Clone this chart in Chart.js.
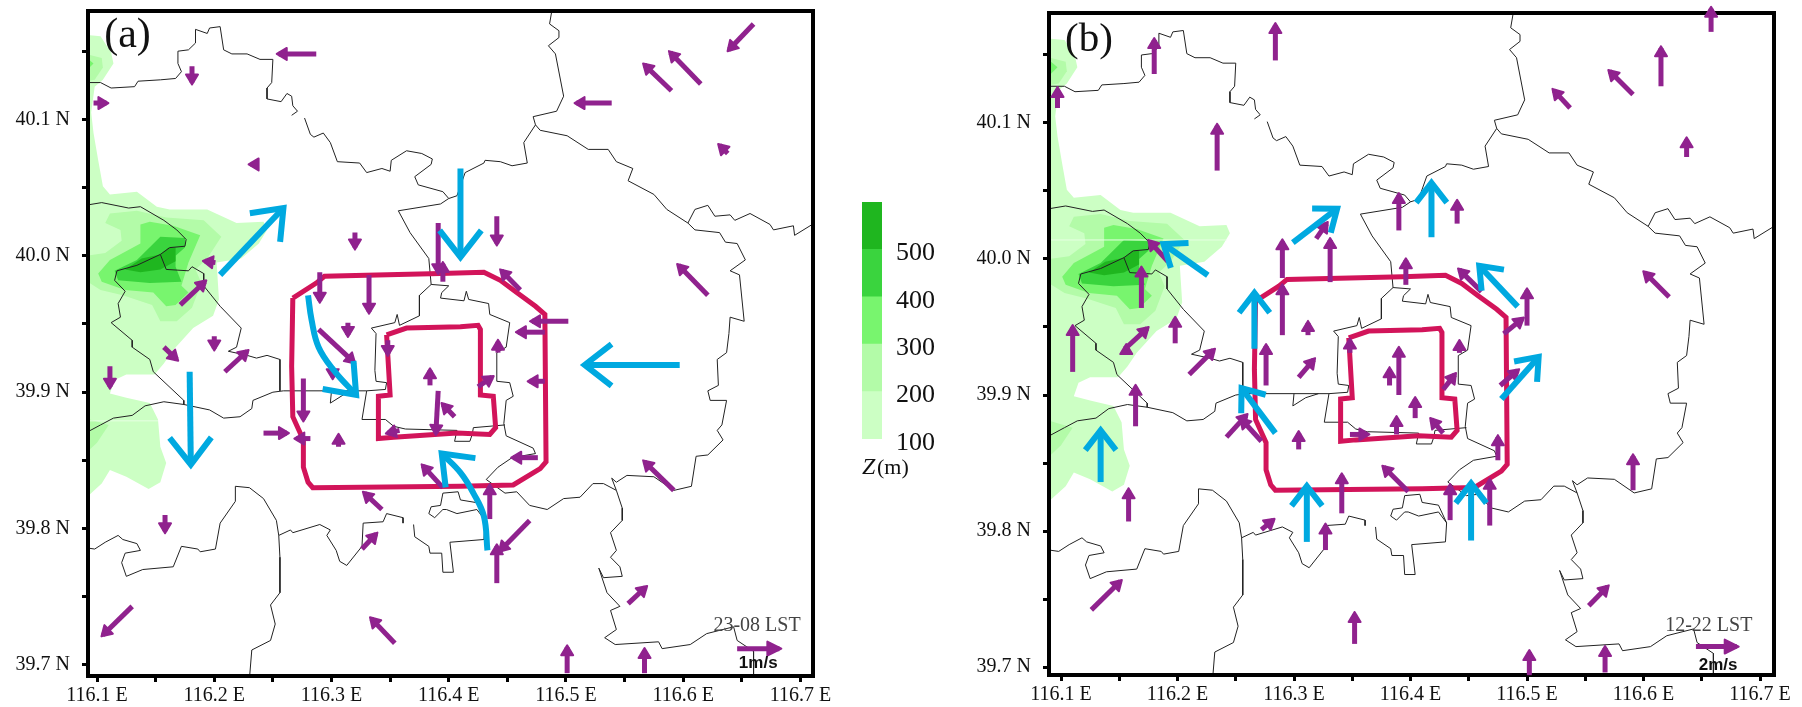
<!DOCTYPE html>
<html>
<head>
<meta charset="utf-8">
<title>Beijing wind field</title>
<script src="https://cdn.jsdelivr.net/npm/chart.js@4/dist/chart.umd.min.js"></script>
<style>
body{margin:0;background:#fff;width:1802px;height:707px;overflow:hidden;position:relative}
canvas{position:absolute;top:0}
</style>
</head>
<body>
<canvas id="panelA" width="840" height="707" style="left:0"></canvas>
<canvas id="scaleBar" width="130" height="707" style="left:840px"></canvas>
<canvas id="panelB" width="832" height="707" style="left:970px"></canvas>
<script>
// axis ticks (degrees)
const lonTicks=[116.1,116.15,116.2,116.25,116.3,116.35,116.4,116.45,116.5,116.55,116.6,116.65,116.7]
const latTicks=[39.7,39.75,39.8,39.85,39.9,39.95,40.0,40.05,40.1,40.15]

// terrain height bands, lon/lat outlines
const heightBands=[[100,200],[200,300],[300,400],[400,500],[500,600]]
const heightTicks=[100,200,300,400,500]
const heightColors=["#ccffc4","#b3fba8","#78f56e","#3ad43e","#1fb61f"]

const terrain100=[[116.090,40.162],[116.103,40.161],[116.112,40.149],[116.114,40.141],[116.105,40.129],[116.098,40.124],[116.095,40.105],[116.097,40.090],[116.101,40.070],[116.105,40.051],[116.111,40.045],[116.134,40.047],[116.151,40.036],[116.162,40.034],[116.194,40.034],[116.219,40.024],[116.242,40.025],[116.245,40.019],[116.238,40.009],[116.223,39.998],[116.202,39.995],[116.204,39.968],[116.199,39.956],[116.182,39.947],[116.165,39.931],[116.157,39.921],[116.149,39.913],[116.125,39.913],[116.115,39.909],[116.111,39.899],[116.125,39.896],[116.145,39.892],[116.152,39.880],[116.154,39.860],[116.159,39.848],[116.154,39.834],[116.144,39.829],[116.125,39.838],[116.111,39.843],[116.104,39.833],[116.090,39.822],[116.090,40.162]]
const terrain200=[[116.107,40.024],[116.111,40.031],[116.134,40.033],[116.159,40.028],[116.191,40.026],[116.206,40.014],[116.194,39.998],[116.184,39.990],[116.189,39.980],[116.181,39.962],[116.168,39.952],[116.154,39.952],[116.147,39.964],[116.122,39.971],[116.103,39.975],[116.090,39.982],[116.090,40.000],[116.107,40.002],[116.121,40.011],[116.120,40.019],[116.107,40.024]]
const terrain300=[[116.137,40.023],[116.145,40.025],[116.165,40.022],[116.188,40.015],[116.178,39.995],[116.172,39.978],[116.178,39.973],[116.167,39.964],[116.159,39.963],[116.148,39.973],[116.124,39.975],[116.104,39.981],[116.101,39.987],[116.111,39.997],[116.137,40.009],[116.137,40.023]]
const terrain400=[[116.154,40.014],[116.175,40.013],[116.175,40.006],[116.167,40.000],[116.167,39.992],[116.172,39.981],[116.145,39.980],[116.118,39.982],[116.115,39.989],[116.134,39.997],[116.154,40.014]]
const terrain500=[[116.161,40.006],[116.167,40.006],[116.167,39.996],[116.154,39.990],[116.137,39.988],[116.124,39.990],[116.138,39.998],[116.154,40.001],[116.161,40.006]]
const terrainTop200=[[116.090,40.148],[116.104,40.145],[116.105,40.138],[116.098,40.129],[116.090,40.128],[116.090,40.148]]
const terrainTop300=[[116.090,40.146],[116.097,40.141],[116.090,40.135],[116.090,40.146]]
const terrainLow200=[[116.090,39.881],[116.110,39.876],[116.100,39.863],[116.090,39.855],[116.090,39.881]]
// pale scan seam across the terrain
const seamA=[[116.090,39.879],[116.152,39.879]]
const seamB=[[116.090,40.014],[116.242,40.014]]

// district boundaries, lon/lat
const borderNorth1=[[116.090,40.127],[116.103,40.127],[116.112,40.123],[116.132,40.124],[116.135,40.128],[116.154,40.129],[116.167,40.130],[116.172,40.135],[116.169,40.141],[116.169,40.150],[116.178,40.151],[116.184,40.156],[116.184,40.166],[116.194,40.163],[116.196,40.167],[116.205,40.168],[116.208,40.151],[116.215,40.148],[116.228,40.148],[116.239,40.144],[116.250,40.144],[116.249,40.127],[116.245,40.123],[116.245,40.115],[116.257,40.113],[116.262,40.119],[116.266,40.117],[116.267,40.110],[116.271,40.106],[116.266,40.103]]
const borderNorth2=[[116.277,40.101],[116.282,40.089],[116.285,40.087],[116.293,40.090],[116.299,40.083],[116.305,40.069],[116.324,40.068],[116.330,40.061],[116.343,40.064],[116.350,40.062],[116.351,40.070],[116.364,40.077],[116.377,40.075],[116.386,40.071],[116.385,40.067],[116.371,40.058],[116.374,40.052],[116.395,40.047],[116.400,40.042],[116.407,40.044],[116.414,40.061],[116.430,40.068],[116.431,40.070],[116.444,40.069],[116.454,40.066],[116.467,40.068],[116.464,40.083],[116.474,40.096],[116.472,40.102],[116.492,40.106],[116.498,40.117],[116.491,40.148],[116.485,40.154],[116.494,40.160],[116.494,40.165],[116.486,40.170],[116.488,40.180]]
const borderEast=[[116.474,40.096],[116.478,40.092],[116.501,40.088],[116.519,40.078],[116.536,40.078],[116.543,40.069],[116.557,40.064],[116.553,40.055],[116.575,40.045],[116.586,40.034],[116.604,40.024],[116.610,40.034],[116.621,40.037],[116.627,40.029],[116.640,40.030],[116.644,40.026],[116.657,40.031],[116.674,40.023],[116.677,40.019],[116.694,40.022],[116.695,40.015],[116.712,40.024]]
const borderEastSouth=[[116.604,40.024],[116.610,40.019],[116.631,40.017],[116.636,40.010],[116.646,40.009],[116.653,39.997],[116.640,39.989],[116.648,39.986],[116.652,39.952],[116.640,39.955],[116.639,39.943],[116.637,39.929],[116.629,39.924],[116.630,39.905],[116.621,39.901],[116.623,39.894],[116.637,39.894],[116.633,39.876],[116.629,39.872],[116.634,39.865],[116.621,39.854],[116.611,39.853],[116.607,39.831],[116.592,39.828],[116.575,39.838],[116.552,39.839],[116.543,39.834],[116.539,39.837],[116.543,39.828],[116.548,39.815],[116.548,39.806],[116.538,39.797],[116.543,39.784],[116.538,39.779],[116.546,39.772],[116.548,39.765],[116.532,39.764],[116.528,39.771],[116.535,39.753],[116.546,39.743],[116.538,39.740],[116.543,39.726],[116.533,39.720],[116.542,39.715],[116.579,39.717],[116.582,39.712],[116.606,39.715],[116.620,39.723],[116.643,39.728],[116.646,39.718],[116.660,39.710],[116.660,39.690]]
const borderSouthEast=[[116.543,39.828],[116.532,39.833],[116.523,39.833],[116.512,39.823],[116.498,39.822],[116.484,39.814],[116.469,39.817],[116.458,39.827],[116.448,39.826],[116.432,39.836],[116.442,39.845],[116.454,39.852],[116.474,39.855],[116.472,39.859],[116.449,39.868],[116.447,39.877],[116.449,39.894],[116.455,39.897],[116.452,39.907],[116.441,39.908],[116.441,39.929],[116.449,39.933],[116.452,39.951],[116.435,39.957],[116.434,39.965],[116.417,39.968],[116.415,39.974],[116.413,39.967],[116.393,39.969],[116.394,39.973],[116.400,39.978],[116.385,39.979],[116.375,39.971],[116.375,39.956],[116.358,39.949],[116.356,39.957],[116.354,39.951],[116.334,39.947],[116.338,39.943],[116.337,39.916],[116.338,39.908],[116.347,39.907],[116.346,39.902],[116.330,39.901],[116.326,39.880],[116.346,39.880],[116.353,39.875],[116.363,39.873],[116.407,39.872],[116.405,39.864],[116.418,39.864],[116.420,39.869],[116.421,39.874],[116.448,39.876]]
const borderLink=[[116.385,39.979],[116.383,39.998],[116.367,40.017],[116.357,40.033],[116.393,40.038],[116.400,40.042]]
const borderWest=[[116.330,39.901],[116.259,39.901],[116.250,39.900],[116.233,39.894],[116.232,39.888],[116.222,39.882],[116.208,39.881],[116.196,39.887],[116.174,39.891],[116.157,39.893],[116.141,39.890],[116.130,39.883],[116.114,39.881],[116.103,39.876],[116.090,39.870]]
const borderBox=[[116.300,39.901],[116.299,39.892],[116.310,39.898],[116.321,39.901]]
const borderHill1=[[116.090,40.037],[116.104,40.039],[116.127,40.035],[116.137,40.036],[116.157,40.026],[116.168,40.019],[116.176,40.012],[116.175,40.007],[116.162,40.006],[116.154,40.001],[116.134,39.993],[116.117,39.989],[116.115,39.982],[116.124,39.974],[116.118,39.965],[116.120,39.955],[116.112,39.951],[116.130,39.938],[116.130,39.933],[116.145,39.924],[116.148,39.915],[116.174,39.894],[116.174,39.891]]
const borderHill2=[[116.154,40.001],[116.159,39.990],[116.178,39.989],[116.181,39.992],[116.191,39.987],[116.191,39.978],[116.205,39.963],[116.223,39.947],[116.219,39.933],[116.212,39.930],[116.228,39.927],[116.236,39.925],[116.245,39.927],[116.256,39.924],[116.256,39.901]]
const borderSouth1=[[116.090,39.786],[116.098,39.785],[116.107,39.790],[116.118,39.795],[116.122,39.792],[116.134,39.789],[116.137,39.784],[116.124,39.782],[116.121,39.775],[116.125,39.765],[116.139,39.770],[116.165,39.772],[116.172,39.787],[116.186,39.785],[116.188,39.783],[116.201,39.785],[116.205,39.804],[116.218,39.820],[116.218,39.831],[116.230,39.830],[116.242,39.822],[116.253,39.806],[116.255,39.795],[116.256,39.779],[116.256,39.753],[116.248,39.744],[116.252,39.730],[116.248,39.718],[116.232,39.711],[116.230,39.690]]
const borderSouth2=[[116.255,39.795],[116.265,39.799],[116.267,39.797],[116.290,39.803],[116.299,39.799],[116.296,39.795],[116.304,39.784],[116.307,39.776],[116.313,39.773],[116.326,39.787],[116.327,39.804],[116.344,39.805],[116.347,39.811],[116.361,39.808],[116.361,39.804]]
const borderSouth3=[[116.370,39.803],[116.371,39.794],[116.383,39.787],[116.384,39.782],[116.394,39.782],[116.395,39.768],[116.404,39.768],[116.401,39.790],[116.430,39.792],[116.431,39.806],[116.424,39.814],[116.407,39.811],[116.398,39.814],[116.395,39.814],[116.388,39.808],[116.383,39.811],[116.385,39.816],[116.393,39.817],[116.395,39.826],[116.408,39.827],[116.410,39.821],[116.424,39.819],[116.431,39.806]]

// ring roads
const outerRing=[[116.267,39.969],[116.287,39.980],[116.294,39.985],[116.393,39.987],[116.430,39.988],[116.444,39.982],[116.458,39.973],[116.474,39.963],[116.482,39.957],[116.483,39.849],[116.478,39.844],[116.455,39.832],[116.410,39.831],[116.284,39.830],[116.280,39.834],[116.276,39.845],[116.276,39.865],[116.267,39.882],[116.266,39.919],[116.267,39.969]]
const innerRing=[[116.347,39.942],[116.364,39.947],[116.410,39.948],[116.425,39.949],[116.427,39.946],[116.427,39.898],[116.438,39.897],[116.440,39.874],[116.435,39.869],[116.407,39.870],[116.353,39.867],[116.340,39.866],[116.340,39.897],[116.350,39.898],[116.347,39.942]]

// wind vectors: lon0,lat0 -> lon1,lat1
const windA=[[116.287,40.148,116.255,40.148],[116.181,40.139,116.181,40.127],[116.097,40.112,116.108,40.112],[116.238,40.067,116.231,40.067],[116.320,40.017,116.320,40.006],[116.201,39.995,116.192,39.996],[116.171,39.964,116.192,39.981],[116.200,39.941,116.200,39.932],[116.157,39.933,116.168,39.924],[116.111,39.919,116.111,39.904],[116.209,39.915,116.228,39.930],[116.290,39.988,116.290,39.967],[116.332,39.986,116.332,39.959],[116.314,39.951,116.314,39.942],[116.391,40.024,116.391,39.988],[116.395,39.981,116.395,39.994],[116.441,40.029,116.441,40.009],[116.461,39.975,116.445,39.989],[116.502,39.952,116.471,39.952],[116.482,39.944,116.459,39.944],[116.442,39.929,116.442,39.937],[116.621,39.971,116.596,39.993],[116.539,40.112,116.509,40.112],[116.590,40.121,116.567,40.140],[116.615,40.126,116.589,40.149],[116.660,40.170,116.639,40.151],[116.638,40.075,116.631,40.081],[116.289,39.946,116.319,39.922],[116.348,39.938,116.348,39.928],[116.276,39.910,116.276,39.880],[116.301,39.916,116.301,39.911],[116.384,39.905,116.384,39.916],[116.391,39.901,116.389,39.870],[116.405,39.882,116.395,39.891],[116.358,39.872,116.348,39.870],[116.425,39.904,116.437,39.911],[116.482,39.908,116.469,39.908],[116.242,39.870,116.262,39.870],[116.282,39.866,116.270,39.866],[116.306,39.860,116.306,39.868],[116.343,39.814,116.328,39.826],[116.395,39.830,116.378,39.846],[116.476,39.852,116.455,39.852],[116.435,39.807,116.435,39.831],[116.469,39.806,116.444,39.784],[116.441,39.760,116.441,39.787],[116.553,39.745,116.568,39.757],[116.501,39.694,116.501,39.713],[116.567,39.694,116.567,39.711],[116.592,39.828,116.567,39.849],[116.158,39.810,116.158,39.798],[116.130,39.743,116.105,39.722],[116.354,39.716,116.334,39.734],[116.326,39.785,116.338,39.796]]
const windB=[[116.180,40.136,116.180,40.161],[116.284,40.146,116.284,40.172],[116.097,40.111,116.097,40.125],[116.234,40.065,116.234,40.098],[116.390,40.021,116.390,40.047],[116.396,39.981,116.396,39.999],[116.290,39.986,116.290,40.013],[116.331,39.983,116.331,40.014],[116.319,40.015,116.328,40.026],[116.192,39.998,116.176,40.013],[116.169,39.964,116.169,39.993],[116.290,39.944,116.290,39.980],[116.312,39.944,116.312,39.953],[116.198,39.938,116.198,39.956],[116.110,39.917,116.110,39.950],[116.155,39.934,116.174,39.949],[116.210,39.915,116.231,39.933],[116.276,39.907,116.276,39.936],[116.304,39.913,116.317,39.926],[116.390,39.900,116.390,39.934],[116.382,39.907,116.382,39.919],[116.348,39.931,116.348,39.940],[116.404,39.883,116.404,39.897],[116.388,39.871,116.388,39.883],[116.348,39.871,116.363,39.871],[116.304,39.860,116.304,39.872],[116.242,39.869,116.259,39.885],[116.272,39.866,116.255,39.882],[116.272,39.801,116.282,39.808],[116.327,39.786,116.327,39.804],[116.341,39.813,116.341,39.841],[116.398,39.829,116.377,39.847],[116.352,39.717,116.352,39.739],[116.126,39.742,116.151,39.763],[116.158,39.807,116.158,39.830],[116.164,39.877,116.164,39.906],[116.428,39.904,116.438,39.915],[116.428,39.872,116.418,39.882],[116.434,39.808,116.434,39.833],[116.468,39.804,116.468,39.837],[116.475,39.852,116.475,39.869],[116.477,39.907,116.492,39.918],[116.591,39.830,116.591,39.855],[116.553,39.745,116.569,39.759],[116.502,39.694,116.502,39.711],[116.567,39.696,116.567,39.714],[116.658,40.167,116.658,40.184],[116.615,40.127,116.615,40.155],[116.591,40.121,116.571,40.138],[116.537,40.111,116.523,40.124],[116.637,40.075,116.637,40.088],[116.440,40.026,116.440,40.042],[116.622,39.972,116.601,39.990],[116.461,39.976,116.442,39.992],[116.500,39.951,116.500,39.977],[116.480,39.945,116.496,39.956],[116.442,39.931,116.442,39.939],[116.156,39.931,116.156,39.936]]
const refArrowA=[116.646,39.712,116.682,39.712]
const refArrowB=[116.645,39.715,116.680,39.715]

// broad flow arrows, polylines in lon/lat
const flowA=[
  [[116.205,39.986],[116.259,40.035]],
  [[116.410,40.064],[116.410,39.999]],
  [[116.597,39.920],[116.516,39.920]],
  [[116.179,39.915],[116.180,39.847]],
  [[116.280,39.971],[116.283,39.953],[116.289,39.933],[116.302,39.916],[116.321,39.898]],
  [[116.433,39.784],[116.430,39.809],[116.421,39.826],[116.410,39.841],[116.394,39.855]]
]
const flowB=[
  [[116.226,39.988],[116.188,40.011]],
  [[116.299,40.012],[116.337,40.037]],
  [[116.418,40.016],[116.418,40.056]],
  [[116.266,39.934],[116.266,39.975]],
  [[116.284,39.872],[116.255,39.905]],
  [[116.134,39.836],[116.134,39.874]],
  [[116.311,39.792],[116.311,39.833]],
  [[116.452,39.793],[116.452,39.835]],
  [[116.478,39.897],[116.510,39.928]],
  [[116.492,39.965],[116.459,39.995]]
]

const serif='"Liberation Serif"'
const purple="#90228e"
const cyan="#00a9e0"
const crimson="#d2145a"
const toXY=pts=>pts.map(p=>({x:p[0],y:p[1]}))

// frame around the map
const framePlugin={
  id:"frame",
  beforeDatasetsDraw(chart){
    const a=chart.chartArea, c=chart.ctx
    c.save()
    c.strokeStyle="#000"
    c.lineWidth=4
    c.strokeRect(a.left-2,a.top-2,a.right-a.left+4,a.bottom-a.top+4)
    c.restore()
  }
}

// arrow heads are put on the last point of a dataset
const headPlugin={
  id:"heads",
  afterDatasetDraw(chart,args){
    const ds=chart.data.datasets[args.index]
    if(!ds.head) return
    const pts=args.meta.data, n=pts.length
    const tip=pts[n-1], prev=pts[n-2]
    const ang=Math.atan2(tip.y-prev.y,tip.x-prev.x)
    const c=chart.ctx
    c.save()
    c.translate(tip.x,tip.y)
    c.rotate(ang)
    if(ds.head==="solid"){
      c.fillStyle=ds.borderColor
      c.strokeStyle=ds.borderColor
      c.lineWidth=2
      c.lineJoin="round"
      c.beginPath()
      c.moveTo(2,0)
      c.lineTo(-ds.headLen,-ds.headWide)
      c.lineTo(-ds.headLen,ds.headWide)
      c.closePath()
      c.fill()
      c.stroke()
    }else{
      const t=0.66
      c.strokeStyle=ds.borderColor
      c.lineWidth=ds.borderWidth
      c.lineJoin="miter"
      c.beginPath()
      c.moveTo(-ds.headLen*Math.cos(t),-ds.headLen*Math.sin(t))
      c.lineTo(0,0)
      c.lineTo(-ds.headLen*Math.cos(t),ds.headLen*Math.sin(t))
      c.stroke()
    }
    c.restore()
  }
}

const notesPlugin=items=>({
  id:"notes",
  afterDraw(chart){
    const c=chart.ctx
    c.save()
    c.textAlign="center"
    c.textBaseline="middle"
    items.forEach(t=>{
      c.font=t.font
      c.fillStyle=t.color
      c.fillText(t.text,chart.scales.x.getPixelForValue(t.lon),chart.scales.y.getPixelForValue(t.lat))
    })
    c.restore()
  }
})

function shape(pts,color,order){
  return {data:toXY(pts),showLine:true,borderWidth:0,borderColor:color,backgroundColor:color,fill:"shape",pointRadius:0,order:order}
}
function line(pts,color,width,order){
  return {data:toXY(pts),showLine:true,fill:false,borderWidth:width,borderColor:color,pointRadius:0,order:order}
}
function windArrow(v,width,wide,len){
  return {data:[{x:v[0],y:v[1]},{x:v[2],y:v[3]}],showLine:true,fill:false,clip:false,borderWidth:width,borderColor:purple,pointRadius:0,order:1,head:"solid",headWide:wide,headLen:len}
}
function flowArrow(pts,len){
  return {data:toXY(pts),showLine:true,fill:false,clip:false,tension:pts.length>2?0.4:0,borderWidth:6,borderColor:cyan,pointRadius:0,order:0,head:"open",headLen:len}
}

function drawPanel(id,box,seam,wind,refArrow,flow,flowHead,notes){
  const datasets=[
    shape(terrain100,heightColors[0],20),
    shape(terrainTop200,heightColors[1],19),
    shape(terrainLow200,heightColors[1],19),
    shape(terrain200,heightColors[1],19),
    shape(terrainTop300,heightColors[2],18),
    shape(terrain300,heightColors[2],18),
    shape(terrain400,heightColors[3],17),
    shape(terrain500,heightColors[4],16),
    line(seam,"#e6ffe2",1,6)
  ]
  const borders=[borderNorth1,borderNorth2,borderEast,borderEastSouth,borderSouthEast,borderLink,borderWest,borderBox,borderHill1,borderHill2,borderSouth1,borderSouth2,borderSouth3]
  borders.forEach(b=>datasets.push(line(b,"#222",1,5)))
  datasets.push(line(outerRing,crimson,5,3))
  datasets.push(line(innerRing,crimson,5,3))
  wind.forEach(v=>datasets.push(windArrow(v,5,6,8)))
  datasets.push(windArrow(refArrow,5,7,12))
  flow.forEach(f=>datasets.push(flowArrow(f,flowHead)))

  new Chart(document.getElementById(id),{
    type:"scatter",
    data:{datasets:datasets},
    plugins:[framePlugin,headPlugin,notesPlugin(notes)],
    options:{
      responsive:false,
      animation:false,
      layout:{padding:{left:0,right:box.right,top:box.top,bottom:0}},
      plugins:{legend:{display:false},tooltip:{enabled:false}},
      scales:{
        x:{
          type:"linear",min:box.lonMin,max:box.lonMax,
          border:{display:false},
          grid:{drawOnChartArea:false,tickLength:8,tickWidth:3,color:"#000"},
          afterBuildTicks:s=>{s.ticks=lonTicks.map(v=>({value:v}))},
          afterFit:s=>{s.height=box.bottom;s.paddingLeft=0;s.paddingRight=0},
          ticks:{
            autoSkip:false,maxRotation:0,padding:2,color:"#111",
            font:{family:serif,size:20},
            callback:v=>Math.round(v*100)%10===0?v.toFixed(1)+" E":""
          }
        },
        y:{
          type:"linear",min:box.latMin,max:box.latMax,
          border:{display:false},
          grid:{drawOnChartArea:false,tickLength:8,tickWidth:3,color:"#000"},
          afterBuildTicks:s=>{s.ticks=latTicks.map(v=>({value:v}))},
          afterFit:s=>{s.width=box.left;s.paddingTop=0;s.paddingBottom=0},
          ticks:{
            autoSkip:false,padding:12,color:"#111",
            font:{family:serif,size:20},
            callback:v=>Math.round(v*100)%10===0?v.toFixed(1)+" N":""
          }
        }
      }
    }
  })
}

drawPanel("panelA",
  {left:90,right:29,top:13,bottom:33,lonMin:116.094,lonMax:116.709,latMin:39.6934,latMax:40.178},
  seamA,windA,refArrowA,flowA,34,
  [
    {text:"(a)",lon:116.126,lat:40.161,font:"42px "+serif,color:"#111"},
    {text:"23-08 LST",lon:116.663,lat:39.729,font:"20px "+serif,color:"#444"},
    {text:"1m/s",lon:116.664,lat:39.701,font:"bold 17px 'Liberation Sans'",color:"#111"}
  ])

drawPanel("panelB",
  {left:81,right:30,top:15,bottom:34,lonMin:116.0914,lonMax:116.7103,latMin:39.6956,latMax:40.1794},
  seamB,windB,refArrowB,flowB,25,
  [
    {text:"(b)",lon:116.124,lat:40.161,font:"41px "+serif,color:"#111"},
    {text:"12-22 LST",lon:116.656,lat:39.730,font:"20px "+serif,color:"#444"},
    {text:"2m/s",lon:116.664,lat:39.7015,font:"bold 17px 'Liberation Sans'",color:"#111"}
  ])

// height scale bar
new Chart(document.getElementById("scaleBar"),{
  type:"bar",
  data:{
    labels:["Z"],
    datasets:heightBands.map((b,i)=>({data:[b],backgroundColor:heightColors[i],grouped:false,barPercentage:1,categoryPercentage:1}))
  },
  plugins:[{
    id:"zLabel",
    afterDraw(chart){
      const c=chart.ctx
      c.save()
      c.fillStyle="#111"
      c.textBaseline="middle"
      c.font="italic 24px "+serif
      c.fillText("Z",22,468)
      c.font="22px "+serif
      c.fillText("(m)",37,468)
      c.restore()
    }
  }],
  options:{
    responsive:false,
    animation:false,
    layout:{padding:{left:22,top:202,right:0,bottom:268}},
    plugins:{legend:{display:false},tooltip:{enabled:false}},
    scales:{
      x:{display:false},
      y:{
        position:"right",min:100,max:600,
        border:{display:false},
        grid:{display:false},
        afterBuildTicks:s=>{s.ticks=heightTicks.map(v=>({value:v}))},
        afterFit:s=>{s.width=88;s.paddingTop=0;s.paddingBottom=0},
        ticks:{padding:6,labelOffset:4,color:"#111",font:{family:serif,size:26}}
      }
    }
  }
})
</script>
</body>
</html>
